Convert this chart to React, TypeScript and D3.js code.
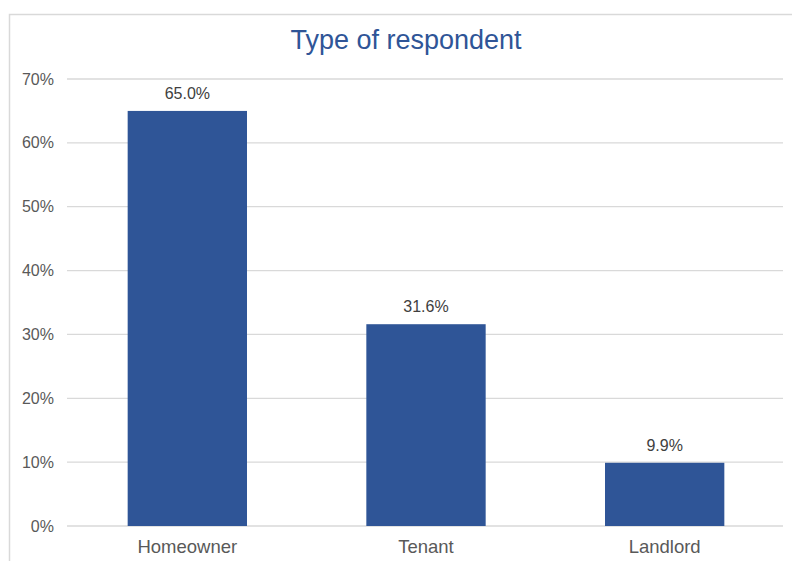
import React from "react";
import * as d3 from "d3";

const categories = ["Homeowner", "Tenant", "Landlord"];
const values = [65.0, 31.6, 9.9];
const yTicks = [0, 10, 20, 30, 40, 50, 60, 70];
const title = "Type of respondent";

const W = 792;
const H = 561;
const plot = { left: 68, right: 784, top: 79, bottom: 526 };
const FONT = "'Liberation Sans', Arial, Helvetica, sans-serif";
const BAR = "#2F5597";
const TEXT = "#595959";

export default function App() {
  const x = d3
    .scaleBand<string>()
    .domain(categories)
    .range([plot.left, plot.right])
    .paddingInner(0.5)
    .paddingOuter(0.25);
  const y = d3.scaleLinear().domain([0, 70]).range([plot.bottom, plot.top]);

  return (
    <svg
      width={W}
      height={H}
      style={{ position: "absolute", left: 0, top: 0, background: "#fff" }}
      fontFamily={FONT}
    >
      <rect x={9.5} y={14.5} width={W + 20} height={H + 20} fill="#fff" stroke="#d9d9d9" strokeWidth={1.5} />
      <text x={406} y={49} textAnchor="middle" fontSize={27} fill={BAR}>
        {title}
      </text>
      {yTicks.map((t) => (
        <g key={t}>
          <line x1={plot.left - 1} x2={plot.right - 1} y1={y(t)} y2={y(t)} stroke="#d9d9d9" strokeWidth={1.3} />
          <text x={54} y={y(t) + 5.5} textAnchor="end" fontSize={16} fill={TEXT}>
            {t}%
          </text>
        </g>
      ))}
      {categories.map((c, i) => (
        <g key={c}>
          <rect x={x(c)!} y={y(values[i])} width={x.bandwidth()} height={y(0) - y(values[i])} fill={BAR} />
          <text x={x(c)! + x.bandwidth() / 2} y={y(values[i]) - 12} textAnchor="middle" fontSize={16} fill="#404040">
            {values[i].toFixed(1)}%
          </text>
          <text x={x(c)! + x.bandwidth() / 2} y={553} textAnchor="middle" fontSize={18.5} fill={TEXT}>
            {c}
          </text>
        </g>
      ))}
    </svg>
  );
}
